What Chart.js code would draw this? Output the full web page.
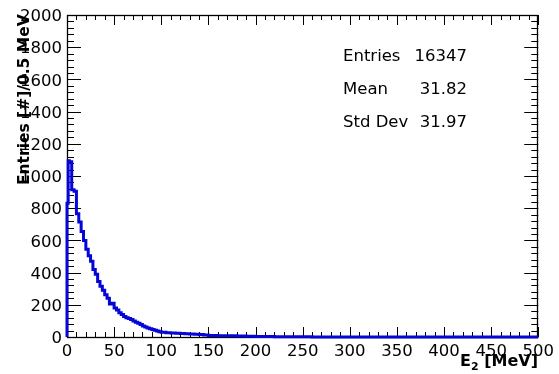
<!DOCTYPE html>
<html>
<head>
<meta charset="utf-8">
<script src="https://cdn.jsdelivr.net/npm/chart.js@4"></script>
<style>
  html, body { margin: 0; padding: 0; background: #fff; }
  canvas { display: block; }
</style>
</head>
<body>
<canvas id="histo" width="559" height="374"></canvas>
<script>
// low edges of each bin (MeV), last entry is the upper edge of the last bin
const binEdges = [0, 1.25, 2.5, 5, 7.5, 10, 12.5, 15, 17.5, 20, 22.5, 25, 27.5, 30, 32.5, 35, 37.5,
    40, 42.5, 45, 47.5, 50, 52.5, 55, 57.5, 60, 62.5, 65, 67.5, 70, 72.5, 75, 77.5, 80, 82.5,
    85, 87.5, 90, 92.5, 95, 97.5, 100, 105, 110, 115, 120, 125, 130, 135, 140, 145, 150,
    160, 170, 180, 190, 200, 220, 240, 260, 300, 500];
const binCounts = [290, 830, 1095, 1088, 915, 905, 765, 715, 655, 600, 545, 505, 470, 420, 390, 345,
    315, 290, 262, 240, 205, 210, 180, 168, 150, 140, 128, 120, 115, 108, 100, 92, 85, 78,
    68, 62, 56, 52, 46, 42, 37, 33, 30, 27, 25, 23, 22, 20, 18, 17, 15,
    12, 10, 8, 7, 6, 5, 3, 2, 1, 0];
const xTickLabels = ["0", "50", "100", "150", "200", "250", "300", "350", "400", "450", "500"];
const yTickLabels = ["0", "200", "400", "600", "800", "1000", "1200", "1400", "1600", "1800", "2000"];
const statNames = ["Entries", "Mean", "Std Dev"];
const statValues = ["16347", "31.82", "31.97"];

const FONT = "'DejaVu Sans', sans-serif";

const points = [{ x: 0, y: 0 }];
binCounts.forEach((c, i) => points.push({ x: binEdges[i], y: c }));
points.push({ x: binEdges[binEdges.length - 1], y: binCounts[binCounts.length - 1] });

// ROOT style frame with inward ticks on all four sides
const rootFrame = {
    id: "rootFrame",
    beforeDatasetsDraw(chart) {
        const { ctx, chartArea: a, scales: { x, y } } = chart;
        ctx.save();
        ctx.strokeStyle = "#000";
        ctx.lineWidth = 1;
        ctx.beginPath();
        const xv = x.ticks.map(t => t.value);
        for (let i = 0; i < xv.length; i++) {
            const px = Math.round(x.getPixelForValue(xv[i])) + 0.5;
            ctx.moveTo(px, a.bottom); ctx.lineTo(px, a.bottom - 10);
            ctx.moveTo(px, a.top); ctx.lineTo(px, a.top + 10);
            if (i < xv.length - 1) {
                for (let k = 1; k < 5; k++) {
                    const m = Math.round(x.getPixelForValue(xv[i] + (xv[i + 1] - xv[i]) * k / 5)) + 0.5;
                    ctx.moveTo(m, a.bottom); ctx.lineTo(m, a.bottom - 5);
                    ctx.moveTo(m, a.top); ctx.lineTo(m, a.top + 5);
                }
            }
        }
        const yv = y.ticks.map(t => t.value);
        for (let i = 0; i < yv.length; i++) {
            const py = Math.round(y.getPixelForValue(yv[i])) + 0.5;
            ctx.moveTo(a.left, py); ctx.lineTo(a.left + 14, py);
            ctx.moveTo(a.right, py); ctx.lineTo(a.right - 14, py);
            if (i < yv.length - 1) {
                for (let k = 1; k < 5; k++) {
                    const m = Math.round(y.getPixelForValue(yv[i] + (yv[i + 1] - yv[i]) * k / 5)) + 0.5;
                    ctx.moveTo(a.left, m); ctx.lineTo(a.left + 7, m);
                    ctx.moveTo(a.right, m); ctx.lineTo(a.right - 7, m);
                }
            }
        }
        ctx.stroke();
        ctx.lineWidth = 1.3;
        ctx.strokeRect(Math.round(a.left) + 0.5, Math.round(a.top) + 0.5,
            Math.round(a.right - a.left) - 1, Math.round(a.bottom - a.top));
        ctx.restore();
    },
    afterDraw(chart) {
        const { ctx } = chart;
        ctx.save();
        ctx.fillStyle = "#000";
        // y title
        ctx.save();
        ctx.translate(29, 185);
        ctx.rotate(-Math.PI / 2);
        ctx.font = "bold 15.5px " + FONT;
        ctx.textAlign = "left";
        ctx.textBaseline = "alphabetic";
        ctx.fillText("Entries [#]/0.5 MeV", 0, 0);
        ctx.restore();
        // x title  E_2 [MeV]
        ctx.textBaseline = "alphabetic";
        ctx.textAlign = "left";
        ctx.font = "bold 16px " + FONT;
        const wE = ctx.measureText("E").width;
        const wR = ctx.measureText(" [MeV]").width;
        ctx.font = "bold 11px " + FONT;
        const w2 = ctx.measureText("2").width;
        let x0 = 538 - (wE + w2 + wR);
        ctx.font = "bold 16px " + FONT;
        ctx.fillText("E", x0, 366);
        ctx.font = "bold 11px " + FONT;
        ctx.fillText("2", x0 + wE, 370);
        ctx.font = "bold 16px " + FONT;
        ctx.fillText(" [MeV]", x0 + wE + w2, 366);
        // stats
        ctx.font = "16.5px " + FONT;
        statNames.forEach((n, i) => {
            ctx.textAlign = "left";
            ctx.fillText(n, 343, 61 + i * 33);
            ctx.textAlign = "right";
            ctx.fillText(statValues[i], 467, 61 + i * 33);
        });
        ctx.restore();
    }
};

new Chart(document.getElementById("histo"), {
    type: "line",
    data: {
        datasets: [{
            data: points,
            stepped: "after",
            borderColor: "#0505d8",
            borderWidth: 3,
            pointRadius: 0,
            fill: false,
            clip: false,
        }]
    },
    options: {
        responsive: false,
        animation: false,
        layout: { padding: { left: 0, right: 18, top: 15, bottom: 0 } },
        plugins: { legend: { display: false }, tooltip: { enabled: false } },
        scales: {
            x: {
                type: "linear",
                min: 0,
                max: 500,
                grid: { display: false, drawTicks: false },
                border: { display: false },
                afterFit: (s) => { s.height = 37; },
                ticks: {
                    stepSize: 50,
                    padding: 5,
                    color: "#000",
                    font: { family: FONT, size: 16.5 },
                    maxRotation: 0,
                    callback: (v, i) => xTickLabels[i],
                },
            },
            y: {
                min: 0,
                max: 2000,
                grid: { display: false, drawTicks: false },
                border: { display: false },
                afterFit: (s) => { s.width = 67; },
                ticks: {
                    stepSize: 200,
                    padding: 5,
                    labelOffset: 2,
                    color: "#000",
                    font: { family: FONT, size: 16.5 },
                    callback: (v, i) => yTickLabels[i],
                },
            },
        },
    },
    plugins: [rootFrame],
});
</script>
</body>
</html>
